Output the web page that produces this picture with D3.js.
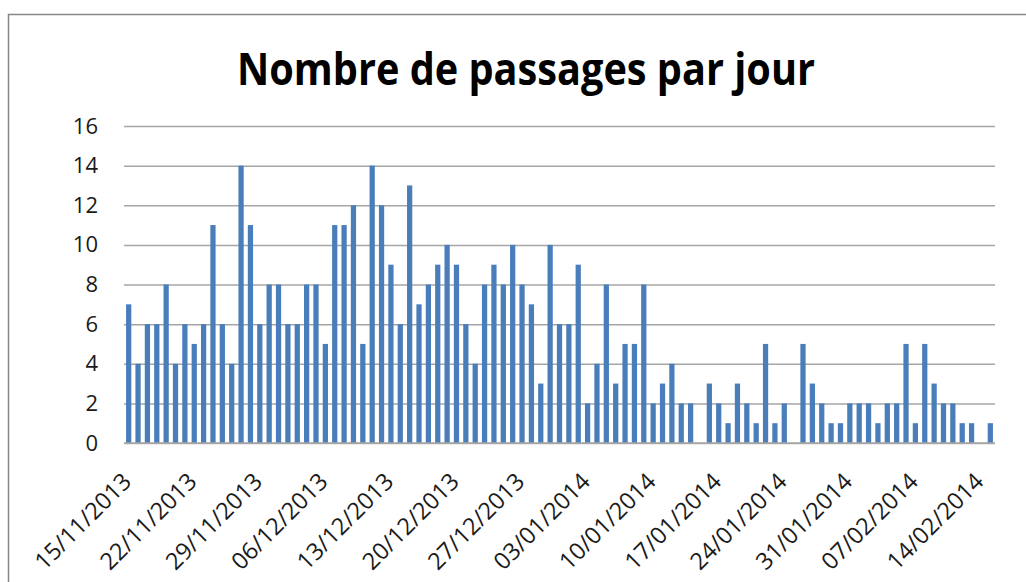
<!DOCTYPE html>
<html>
<head>
<meta charset="utf-8">
<script src="https://cdn.jsdelivr.net/npm/d3@7"></script>
<style>
  body { margin: 0; background: #fff; }
  text { font-family: 'Open Sans', sans-serif; fill: #1a1a1a; }
</style>
</head>
<body>
<div class="canvas"></div>
<script>
// passages per day, 15/11/2013 -> 15/02/2014
const counts = [
  7, 4, 6, 6, 8, 4, 6, 5, 6, 11, 6, 4, 14, 11, 6, 8, 8, 6, 6, 8, 8, 5, 11, 11,
  12, 5, 14, 12, 9, 6, 13, 7, 8, 9, 10, 9, 6, 4, 8, 9, 8, 10, 8, 7, 3, 10,
  6, 6, 9, 2, 4, 8, 3, 5, 5, 8, 2, 3, 4, 2, 2, 0, 3, 2, 1, 3, 2, 1, 5, 1,
  2, 0, 5, 3, 2, 1, 1, 2, 2, 2, 1, 2, 2, 5, 1, 5, 3, 2, 2, 1, 1, 0, 1
];
const yTicks = [0, 2, 4, 6, 8, 10, 12, 14, 16];
const tickLabels = [
  '15/11/2013', '22/11/2013', '29/11/2013', '06/12/2013', '13/12/2013',
  '20/12/2013', '27/12/2013', '03/01/2014', '10/01/2014', '17/01/2014',
  '24/01/2014', '31/01/2014', '07/02/2014', '14/02/2014'
];

const parse = d3.timeParse('%d/%m/%Y');
const fmt = d3.timeFormat('%d/%m/%Y');
const days = d3.timeDays(parse('15/11/2013'), d3.timeDay.offset(parse('15/11/2013'), counts.length));
const data = days.map((d, i) => ({ day: fmt(d), value: counts[i] }));

const dims = { width: 1026, height: 582 };
const plot = { left: 124, right: 995, top: 126, bottom: 443 };

const svg = d3.select('.canvas')
  .append('svg')
  .attr('width', dims.width)
  .attr('height', dims.height);

// chart frame
svg.append('rect')
  .attr('x', 8.5).attr('y', 14.5)
  .attr('width', 1040).attr('height', 600)
  .attr('fill', 'none')
  .attr('stroke', '#878787')
  .attr('stroke-width', 1.5);

svg.append('text')
  .attr('x', 526).attr('y', 85)
  .attr('text-anchor', 'middle')
  .attr('font-size', 44)
  .attr('font-weight', 'bold')
  .attr('textLength', 578)
  .attr('lengthAdjust', 'spacingAndGlyphs')
  .style('fill', '#000')
  .text('Nombre de passages par jour');

const x = d3.scaleBand()
  .domain(data.map(d => d.day))
  .range([plot.left, plot.right])
  .paddingInner(0.44)
  .paddingOuter(0.22);

const y = d3.scaleLinear()
  .domain([0, 16])
  .range([plot.bottom, plot.top]);

// gridlines + y labels
const yAxis = svg.append('g')
  .attr('transform', `translate(${plot.left}, 0)`)
  .call(d3.axisLeft(y).tickValues(yTicks).tickSize(-(plot.right - plot.left)).tickPadding(26));
yAxis.select('.domain').remove();
yAxis.selectAll('.tick line')
  .attr('stroke', '#a6a6a6')
  .attr('stroke-width', 1.5);
yAxis.selectAll('.tick text')
  .attr('font-size', 22)
  .attr('font-family', "'Open Sans', sans-serif")
  .style('fill', '#1a1a1a');

svg.append('g')
  .selectAll('rect')
  .data(data)
  .enter().append('rect')
  .attr('x', d => x(d.day))
  .attr('y', d => y(d.value))
  .attr('width', x.bandwidth())
  .attr('height', d => y(0) - y(d.value))
  .attr('fill', '#4a7ebb');

// baseline
svg.append('line')
  .attr('x1', plot.left).attr('x2', plot.right)
  .attr('y1', y(0)).attr('y2', y(0))
  .attr('stroke', '#a6a6a6')
  .attr('stroke-width', 1.5);

// rotated date labels
const step = x.step();
svg.append('g')
  .selectAll('text')
  .data(tickLabels)
  .enter().append('text')
  .attr('font-size', 23.5)
  .attr('text-anchor', 'end')
  .attr('transform', d => {
    const cx = plot.left + step * (data.findIndex(e => e.day === d) + 0.5) + 4;
    return `translate(${cx}, ${plot.bottom + 40}) rotate(-45)`;
  })
  .text(d => d);
</script>
</body>
</html>
